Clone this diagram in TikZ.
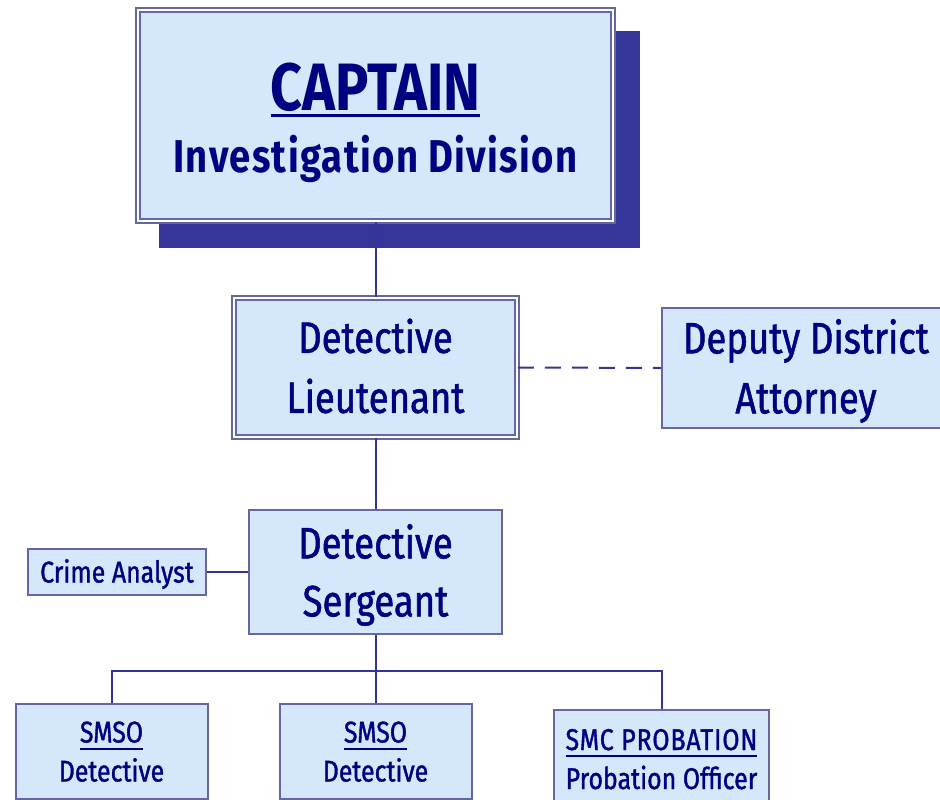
\documentclass[tikz,border=0pt]{standalone}
\usepackage{fontspec}
\setmainfont{Fira Sans}[FakeStretch=0.83,UprightFeatures={FakeBold=1.2},BoldFeatures={FakeStretch=0.83}]
\definecolor{boxfill}{HTML}{D5E8FB}
\definecolor{boxline}{HTML}{6666A3}
\definecolor{navytext}{HTML}{000080}
\definecolor{linkblue}{HTML}{333399}
\definecolor{shadowblue}{HTML}{363699}
\newcommand{\ulword}[3]{\setbox0=\hbox{#1}\rlap{\rule[-#3]{\wd0}{#2}}\box0}
\newcommand{\lnstrut}{\rule[-0.25em]{0pt}{1.2em}}

\begin{document}
\begin{tikzpicture}[x=1pt,y=-1pt,
  box/.style={draw=boxline, line width=2pt, fill=boxfill, text=navytext, align=center, inner sep=0pt},
  dbox/.style={box, line width=1.6pt, double=white, double distance=2pt},
  link/.style={draw=linkblue, line width=2pt}]
\useasboundingbox (0,0) rectangle (940,800);
% shadow behind the captain box
\fill[shadowblue] (159,31) rectangle (640,248);
\node[dbox, minimum width=475pt, minimum height=211pt, font=\bfseries\fontsize{46}{62}\selectfont] (cap) at (375.5,115.5)
  {\rule{0pt}{67pt}{\fontsize{67}{62}\selectfont\ulword{CAPTAIN}{3pt}{7pt}}\\\addfontfeature{LetterSpace=3}Investigation Division\rule[-16pt]{0pt}{16pt}};
\node[dbox, minimum width=283pt, minimum height=139pt, font=\fontsize{44}{60}\selectfont] (lt) at (375.5,367.5)
  {\lnstrut Detective\\\lnstrut Lieutenant};
\node[box, minimum width=288pt, minimum height=120pt, font=\fontsize{44}{60}\selectfont] (dda) at (806,368)
  {\lnstrut Deputy District\\\lnstrut Attorney};
\node[box, minimum width=253pt, minimum height=124pt, font=\fontsize{44}{58}\selectfont] (sgt) at (375.5,572)
  {\lnstrut Detective\\\lnstrut Sergeant};
\node[box, minimum width=178pt, minimum height=46pt, font=\fontsize{30}{39}\selectfont] (ca) at (117,572)
  {\lnstrut Crime Analyst};
\node[box, minimum width=192pt, minimum height=95pt, font=\fontsize{30}{39}\selectfont] (det1) at (111.5,751.5)
  {\lnstrut\ulword{SMSO}{1.6pt}{7pt}\\\lnstrut Detective};
\node[box, minimum width=192pt, minimum height=95pt, font=\fontsize{30}{39}\selectfont] (det2) at (375.5,751.5)
  {\lnstrut\ulword{SMSO}{1.6pt}{7pt}\\\lnstrut Detective};
\node[box, minimum width=215pt, minimum height=98pt, font=\fontsize{30}{39}\selectfont] (po) at (661.5,759)
  {\lnstrut\ulword{\addfontfeature{LetterSpace=3}SMC PROBATION}{1.6pt}{7pt}\\\lnstrut Probation Officer};
% connectors
\draw[link] (cap.south) -- (lt.north);
\draw[link] (lt.south) -- (sgt.north);
\draw[link, dash pattern=on 16pt off 11pt] (lt.east) -- (dda.west);
\draw[link] (ca.east) -- (sgt.west);
\draw[link] (sgt.south) -- (det2.north);
\draw[link] (sgt.south) -- ++(0,36) -| (det1.north);
\draw[link] (sgt.south) -- ++(0,36) -| (po.north);
\end{tikzpicture}
\end{document}
